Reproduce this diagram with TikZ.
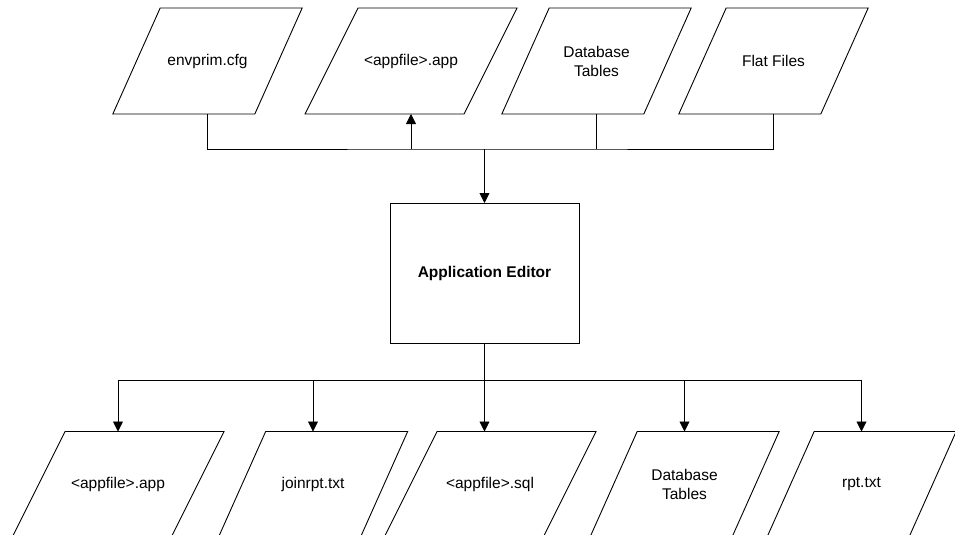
\documentclass[tikz,border=0pt]{standalone}
\usepackage{fontspec}
\setmainfont{Liberation Sans}
\usetikzlibrary{arrows.meta}
\tikzset{
  filebox/.style={minimum width=#1, minimum height=106pt, inner sep=0pt, outer sep=0pt, align=center, font=\fontsize{15.5}{19}\selectfont,
    append after command={\pgfextra{\draw[line width=0.9pt, line join=miter]
      ([xshift=-#1/6]\tikzlastnode.south west) -- ([xshift=-#1/6]\tikzlastnode.south east)
      -- ([xshift=#1/6]\tikzlastnode.north east) -- ([xshift=#1/6]\tikzlastnode.north west) -- cycle;}}},
  narrowfile/.style={filebox=142pt},
  widefile/.style={filebox=159pt},
  editorbox/.style={draw, line width=0.9pt, minimum width=189pt, minimum height=140pt, outer sep=0pt, font=\fontsize{15.5}{19}\selectfont\bfseries},
  bus/.style={draw, line width=0.9pt},
  flow/.style={draw, line width=0.9pt, -{Triangle[length=10pt,width=10pt]}}
}
\begin{document}
\begin{tikzpicture}[x=1pt, y=-1pt]
\useasboundingbox (0,0) rectangle (955,535);
\node[narrowfile] (envprim) at (207.5,61) {envprim.cfg};
\node[widefile] (appin) at (411,61) {<appfile>.app};
\node[narrowfile] (dbin) at (596.5,61) {Database\\Tables};
\node[narrowfile] (flat) at (773.5,61) {Flat Files};
\node[editorbox] (editor) at (484.5,273) {Application Editor};
\node[widefile] (appout) at (118,484.5) {<appfile>.app};
\node[narrowfile] (joinrpt) at (313,484.5) {joinrpt.txt};
\node[widefile] (sqlout) at (490,484.5) {<appfile>.sql};
\node[narrowfile] (dbout) at (684.5,484.5) {Database\\Tables};
\node[narrowfile] (rpt) at (861.5,484.5) {rpt.txt};
\coordinate (inbus) at (484.5,149);
\coordinate (outbus) at (484.5,380);
\draw[bus] (envprim.south) |- (inbus) -| (flat.south);
\draw[bus] (dbin.south) -- (dbin |- inbus);
\draw[flow] (appin |- inbus) -- (appin.south);
\draw[flow] (inbus) -- (editor.north);
\draw[bus] (editor.south) -- (outbus);
\draw[bus] (appout |- outbus) -- (rpt |- outbus);
\draw[flow] (appout |- outbus) -- (appout.north);
\draw[flow] (joinrpt |- outbus) -- (joinrpt.north);
\draw[flow] (outbus) -- (editor |- sqlout.north);
\draw[flow] (dbout |- outbus) -- (dbout.north);
\draw[flow] (rpt |- outbus) -- (rpt.north);
\end{tikzpicture}
\end{document}
